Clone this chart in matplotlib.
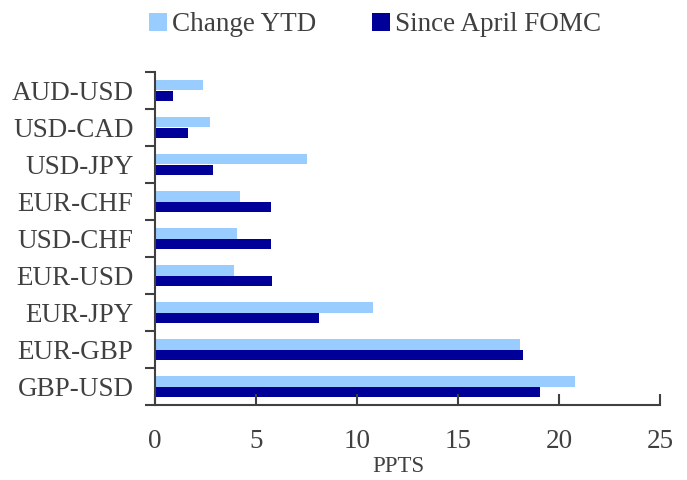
import matplotlib
matplotlib.use("Agg")
import matplotlib.pyplot as plt
import numpy as np

categories = ["AUD-USD", "USD-CAD", "USD-JPY", "EUR-CHF", "USD-CHF",
              "EUR-USD", "EUR-JPY", "EUR-GBP", "GBP-USD"]
change_ytd = [2.4, 2.7, 7.5, 4.2, 4.05, 3.9, 10.8, 18.05, 20.8]
since_fomc = [0.9, 1.65, 2.85, 5.75, 5.75, 5.8, 8.1, 18.2, 19.05]
xticks = [0, 5, 10, 15, 20, 25]

plt.rcParams['font.family'] = ['Liberation Serif', 'DejaVu Serif']
txt = '#404040'
light = '#99CCFF'
dark = '#000099'
fs = 19.5

fig = plt.figure(figsize=(6.87, 4.8), dpi=100)
ax = fig.add_axes([155/687, 1-405/480, (660-155)/687, (405-72)/480])

n = len(categories)
y = np.arange(n)
h = 0.285
ax.barh(y - h/2, change_ytd, height=h, color=light, label='Change YTD')
ax.barh(y + h/2, since_fomc, height=h, color=dark, label='Since April FOMC')

ax.set_ylim(n - 0.5, -0.5)
ax.set_xlim(0, 25)
ax.set_xticks(xticks)
ax.set_xticklabels([str(v) for v in xticks], fontsize=fs, color=txt)
ax.tick_params(axis='x', direction='in', length=8, width=1.5, color=txt, pad=17)

ax.set_yticks(y)
ax.set_yticklabels(categories, fontsize=fs, color=txt)
ax.tick_params(axis='y', which='major', length=0, pad=15.5)
ax.set_yticks(np.arange(n + 1) - 0.5, minor=True)
ax.tick_params(axis='y', which='minor', direction='out', length=7, width=1.5, color=txt)

for s in ['top', 'right']:
    ax.spines[s].set_visible(False)
for s in ['left', 'bottom']:
    ax.spines[s].set_color(txt)
    ax.spines[s].set_linewidth(1.5)

ax.set_xlabel('PPTS', fontsize=16.5, color=txt)
ax.xaxis.set_label_coords((398 - 155) / 505, -0.202)
ax.xaxis.label.set_verticalalignment('baseline')

fig.legend(loc='upper center', bbox_to_anchor=(0.546, 1.025), ncol=2, frameon=False,
           fontsize=fs, handlelength=0.65, handleheight=0.65, handletextpad=0.2,
           columnspacing=2.05, labelcolor=txt)

fig.savefig('out.png', dpi=100)
